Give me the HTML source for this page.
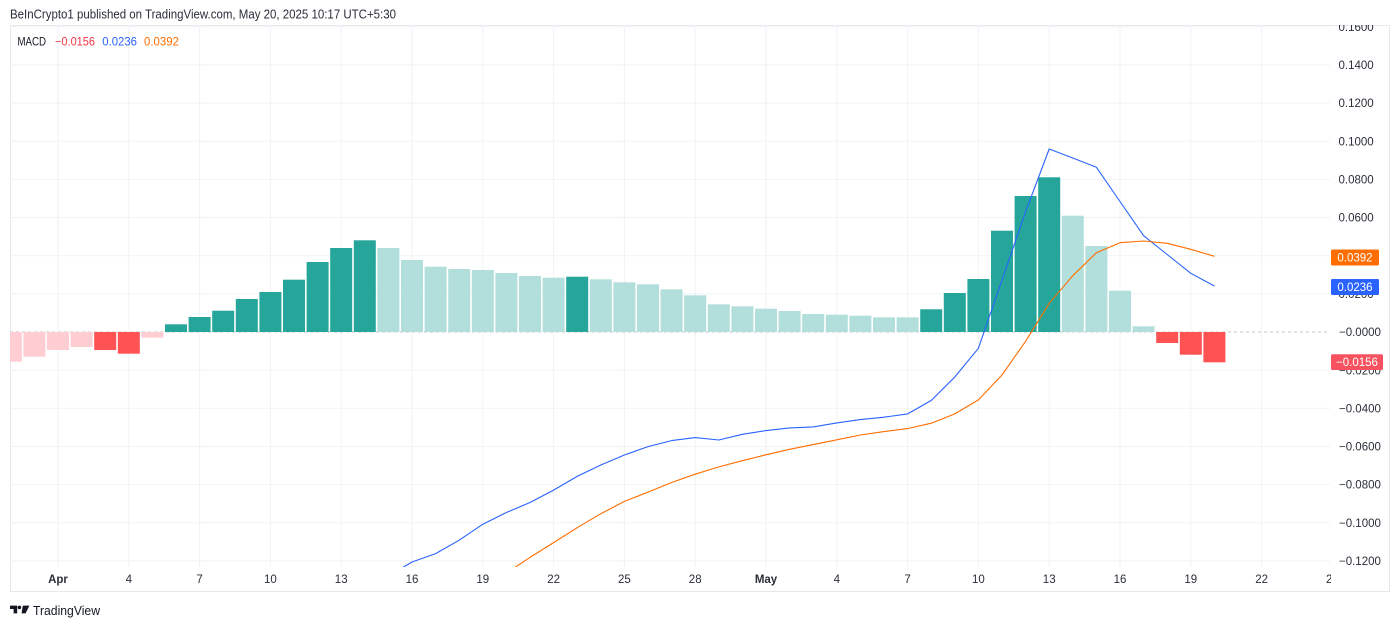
<!DOCTYPE html>
<html>
<head>
<meta charset="utf-8">
<style>
  html,body{margin:0;padding:0;background:#ffffff;}
  svg{display:block;}
  text{font-family:"Liberation Sans", "DejaVu Sans", sans-serif;}
</style>
</head>
<body>
<svg width="1400" height="627" viewBox="0 0 1400 627" xmlns="http://www.w3.org/2000/svg">
  <defs>
    <clipPath id="pane"><rect x="10" y="25" width="1320" height="542"/></clipPath>
    <clipPath id="axis"><rect x="1330" y="25" width="60" height="567"/></clipPath>
    <clipPath id="taxis"><rect x="10" y="567" width="1321" height="25"/></clipPath>
  </defs>
  <rect x="0" y="0" width="1400" height="627" fill="#ffffff"/>

  <!-- header -->
  <text x="10" y="18.5" font-size="12.5" fill="#2a2e39" textLength="386" lengthAdjust="spacingAndGlyphs">BeInCrypto1 published on TradingView.com, May 20, 2025 10:17 UTC+5:30</text>

  <!-- frame -->
  <rect x="10.5" y="25.5" width="1379" height="566" fill="none" stroke="#e6e8ee" stroke-width="1"/>

  <!-- grid -->
  <g stroke="#f0f2f6" stroke-width="1" clip-path="url(#pane)">
    <line x1="10" x2="1330" y1="26.8" y2="26.8"/>
    <line x1="10" x2="1330" y1="64.9" y2="64.9"/>
    <line x1="10" x2="1330" y1="103.1" y2="103.1"/>
    <line x1="10" x2="1330" y1="141.2" y2="141.2"/>
    <line x1="10" x2="1330" y1="179.4" y2="179.4"/>
    <line x1="10" x2="1330" y1="217.5" y2="217.5"/>
    <line x1="10" x2="1330" y1="255.7" y2="255.7"/>
    <line x1="10" x2="1330" y1="293.8" y2="293.8"/>
    <line x1="10" x2="1330" y1="370.2" y2="370.2"/>
    <line x1="10" x2="1330" y1="408.3" y2="408.3"/>
    <line x1="10" x2="1330" y1="446.5" y2="446.5"/>
    <line x1="10" x2="1330" y1="484.6" y2="484.6"/>
    <line x1="10" x2="1330" y1="522.8" y2="522.8"/>
    <line x1="10" x2="1330" y1="560.9" y2="560.9"/>
    <line y1="25" y2="567" x1="58" x2="58"/>
    <line y1="25" y2="567" x1="128.8" x2="128.8"/>
    <line y1="25" y2="567" x1="199.6" x2="199.6"/>
    <line y1="25" y2="567" x1="270.4" x2="270.4"/>
    <line y1="25" y2="567" x1="341.2" x2="341.2"/>
    <line y1="25" y2="567" x1="412" x2="412"/>
    <line y1="25" y2="567" x1="482.8" x2="482.8"/>
    <line y1="25" y2="567" x1="553.6" x2="553.6"/>
    <line y1="25" y2="567" x1="624.4" x2="624.4"/>
    <line y1="25" y2="567" x1="695.2" x2="695.2"/>
    <line y1="25" y2="567" x1="766" x2="766"/>
    <line y1="25" y2="567" x1="836.8" x2="836.8"/>
    <line y1="25" y2="567" x1="907.6" x2="907.6"/>
    <line y1="25" y2="567" x1="978.4" x2="978.4"/>
    <line y1="25" y2="567" x1="1049.2" x2="1049.2"/>
    <line y1="25" y2="567" x1="1120" x2="1120"/>
    <line y1="25" y2="567" x1="1190.8" x2="1190.8"/>
    <line y1="25" y2="567" x1="1261.6" x2="1261.6"/>
  </g>

  <!-- zero line -->
  <line x1="10" x2="1330" y1="332" y2="332" stroke="#c3c6ce" stroke-width="1" stroke-dasharray="3,3"/>

  <!-- histogram -->
  <g clip-path="url(#pane)">
    <rect x="10" y="332" width="11.8" height="29.7" fill="#ffcdd2"/>
    <rect x="23.4" y="332" width="22" height="24.7" fill="#ffcdd2"/>
    <rect x="47" y="332" width="22" height="18" fill="#ffcdd2"/>
    <rect x="70.6" y="332" width="22" height="15" fill="#ffcdd2"/>
    <rect x="94.2" y="332" width="22" height="18" fill="#ff5252"/>
    <rect x="117.8" y="332" width="22" height="21.7" fill="#ff5252"/>
    <rect x="141.4" y="332" width="22" height="5.7" fill="#ffcdd2"/>
    <rect x="165" y="324.3" width="22" height="7.7" fill="#26a69a"/>
    <rect x="188.6" y="317" width="22" height="15" fill="#26a69a"/>
    <rect x="212.2" y="310.7" width="22" height="21.3" fill="#26a69a"/>
    <rect x="235.8" y="299" width="22" height="33" fill="#26a69a"/>
    <rect x="259.4" y="292" width="22" height="40" fill="#26a69a"/>
    <rect x="283" y="279.7" width="22" height="52.3" fill="#26a69a"/>
    <rect x="306.6" y="262" width="22" height="70" fill="#26a69a"/>
    <rect x="330.2" y="248" width="22" height="84" fill="#26a69a"/>
    <rect x="353.8" y="240.3" width="22" height="91.7" fill="#26a69a"/>
    <rect x="377.4" y="248" width="22" height="84" fill="#b2dfdb"/>
    <rect x="401" y="260" width="22" height="72" fill="#b2dfdb"/>
    <rect x="424.6" y="266.7" width="22" height="65.3" fill="#b2dfdb"/>
    <rect x="448.2" y="269" width="22" height="63" fill="#b2dfdb"/>
    <rect x="471.8" y="270" width="22" height="62" fill="#b2dfdb"/>
    <rect x="495.4" y="273" width="22" height="59" fill="#b2dfdb"/>
    <rect x="519" y="276" width="22" height="56" fill="#b2dfdb"/>
    <rect x="542.6" y="277.7" width="22" height="54.3" fill="#b2dfdb"/>
    <rect x="566.2" y="276.7" width="22" height="55.3" fill="#26a69a"/>
    <rect x="589.8" y="279.3" width="22" height="52.7" fill="#b2dfdb"/>
    <rect x="613.4" y="282.3" width="22" height="49.7" fill="#b2dfdb"/>
    <rect x="637" y="284.3" width="22" height="47.7" fill="#b2dfdb"/>
    <rect x="660.6" y="289.3" width="22" height="42.7" fill="#b2dfdb"/>
    <rect x="684.2" y="295.3" width="22" height="36.7" fill="#b2dfdb"/>
    <rect x="707.8" y="304.3" width="22" height="27.7" fill="#b2dfdb"/>
    <rect x="731.4" y="306.3" width="22" height="25.7" fill="#b2dfdb"/>
    <rect x="755" y="308.7" width="22" height="23.3" fill="#b2dfdb"/>
    <rect x="778.6" y="311" width="22" height="21" fill="#b2dfdb"/>
    <rect x="802.2" y="314" width="22" height="18" fill="#b2dfdb"/>
    <rect x="825.8" y="314.7" width="22" height="17.3" fill="#b2dfdb"/>
    <rect x="849.4" y="315.7" width="22" height="16.3" fill="#b2dfdb"/>
    <rect x="873" y="317.3" width="22" height="14.7" fill="#b2dfdb"/>
    <rect x="896.6" y="317.3" width="22" height="14.7" fill="#b2dfdb"/>
    <rect x="920.2" y="309.3" width="22" height="22.7" fill="#26a69a"/>
    <rect x="943.8" y="293" width="22" height="39" fill="#26a69a"/>
    <rect x="967.4" y="279" width="22" height="53" fill="#26a69a"/>
    <rect x="991" y="230.7" width="22" height="101.3" fill="#26a69a"/>
    <rect x="1014.6" y="196" width="22" height="136" fill="#26a69a"/>
    <rect x="1038.2" y="177.3" width="22" height="154.7" fill="#26a69a"/>
    <rect x="1061.8" y="215.7" width="22" height="116.3" fill="#b2dfdb"/>
    <rect x="1085.4" y="246" width="22" height="86" fill="#b2dfdb"/>
    <rect x="1109" y="290.7" width="22" height="41.3" fill="#b2dfdb"/>
    <rect x="1132.6" y="326.3" width="22" height="5.7" fill="#b2dfdb"/>
    <rect x="1156.2" y="332" width="22" height="11" fill="#ff5252"/>
    <rect x="1179.8" y="332" width="22" height="22.7" fill="#ff5252"/>
    <rect x="1203.4" y="332" width="22" height="30.3" fill="#ff5252"/>
  </g>

  <!-- lines -->
  <g clip-path="url(#pane)" fill="none" stroke-width="1.1" stroke-linejoin="round">
    <polyline stroke="#2962ff" points="388.4,576 412,562 435.6,553.6 459.2,540.2 482.8,524.2 506.4,512.5 530,502.5 553.6,490.1 577.2,476.4 600.8,465 624.4,455 648,446.6 671.6,440.6 695.2,437.6 718.8,440 742.4,434.3 766,430.6 789.6,427.9 813.2,426.9 836.8,422.9 860.4,419.6 884,417.2 907.6,413.9 931.2,400.5 954.8,377 978.4,348.3 1002,280 1025.6,211.7 1049.2,149 1072.8,158 1096.4,167.3 1120,201.5 1143.6,235.7 1167.2,254.5 1190.8,273.3 1214.4,286"/>
    <polyline stroke="#ff6d00" points="506.4,573 530,557.4 553.6,542.6 577.2,527.7 600.8,513.7 624.4,501.4 648,492.1 671.6,482.5 695.2,474.2 718.8,466.9 742.4,460.7 766,454.8 789.6,449.3 813.2,444.6 836.8,439.8 860.4,435 884,431.6 907.6,428.6 931.2,423.2 954.8,413.9 978.4,399.9 1002,375 1025.6,341.3 1049.2,303.3 1072.8,275.7 1096.4,252.7 1120,242.7 1143.6,241 1167.2,243.3 1190.8,249.3 1214.4,256.3"/>
  </g>

  <!-- legend -->
  <text x="17.5" y="45.5" font-size="11.5" fill="#131722" textLength="28.5" lengthAdjust="spacingAndGlyphs">MACD</text>
  <text x="55" y="45.5" font-size="11.5" fill="#f23645" textLength="40" lengthAdjust="spacingAndGlyphs">−0.0156</text>
  <text x="102.3" y="45.5" font-size="11.5" fill="#2962ff" textLength="34.7" lengthAdjust="spacingAndGlyphs">0.0236</text>
  <text x="144" y="45.5" font-size="11.5" fill="#ff6d00" textLength="35" lengthAdjust="spacingAndGlyphs">0.0392</text>

  <!-- price axis labels -->
  <g clip-path="url(#axis)" font-size="11.5" fill="#2a2e39">
    <text x="1338.5" y="31">0.1600</text>
    <text x="1338.5" y="69">0.1400</text>
    <text x="1338.5" y="107.2">0.1200</text>
    <text x="1338.5" y="145.3">0.1000</text>
    <text x="1338.5" y="183.5">0.0800</text>
    <text x="1338.5" y="221.6">0.0600</text>
    <text x="1338.5" y="259.8">0.0400</text>
    <text x="1338.5" y="297.9">0.0200</text>
    <text x="1339" y="336.1">−0.0000</text>
    <text x="1339" y="374.3">−0.0200</text>
    <text x="1339" y="412.4">−0.0400</text>
    <text x="1339" y="450.6">−0.0600</text>
    <text x="1339" y="488.7">−0.0800</text>
    <text x="1339" y="526.9">−0.1000</text>
    <text x="1339" y="565">−0.1200</text>
  </g>

  <!-- price tags -->
  <rect x="1331" y="249.5" width="48" height="16" rx="1.5" fill="#ff6d00"/>
  <text x="1355" y="261.5" font-size="11.5" fill="#ffffff" text-anchor="middle">0.0392</text>
  <rect x="1331" y="279" width="48" height="16" rx="1.5" fill="#2962ff"/>
  <text x="1355" y="291" font-size="11.5" fill="#ffffff" text-anchor="middle">0.0236</text>
  <rect x="1331" y="354.3" width="52" height="15.7" rx="1.5" fill="#f7525f"/>
  <text x="1357" y="366.2" font-size="11.5" fill="#ffffff" text-anchor="middle">−0.0156</text>

  <!-- time axis -->
  <g clip-path="url(#taxis)" font-size="11.5" fill="#2a2e39" text-anchor="middle">
    <text x="58" y="583" font-weight="bold">Apr</text>
    <text x="128.8" y="583">4</text>
    <text x="199.6" y="583">7</text>
    <text x="270.4" y="583">10</text>
    <text x="341.2" y="583">13</text>
    <text x="412" y="583">16</text>
    <text x="482.8" y="583">19</text>
    <text x="553.6" y="583">22</text>
    <text x="624.4" y="583">25</text>
    <text x="695.2" y="583">28</text>
    <text x="766" y="583" font-weight="bold">May</text>
    <text x="836.8" y="583">4</text>
    <text x="907.6" y="583">7</text>
    <text x="978.4" y="583">10</text>
    <text x="1049.2" y="583">13</text>
    <text x="1120" y="583">16</text>
    <text x="1190.8" y="583">19</text>
    <text x="1261.6" y="583">22</text>
    <text x="1332.4" y="583">25</text>
  </g>

  <!-- TradingView logo -->
  <g fill="#131722">
    <path d="M10,605.6 H17.2 V613.4 H13.6 V609 H10 Z"/>
    <circle cx="19.4" cy="607.4" r="1.8"/>
    <path d="M22.8,605.6 H29.4 L25.6,613.4 H21.6 Z"/>
  </g>
  <text x="33" y="615" font-size="13" fill="#131722" textLength="67" lengthAdjust="spacingAndGlyphs">TradingView</text>
</svg>
</body>
</html>
